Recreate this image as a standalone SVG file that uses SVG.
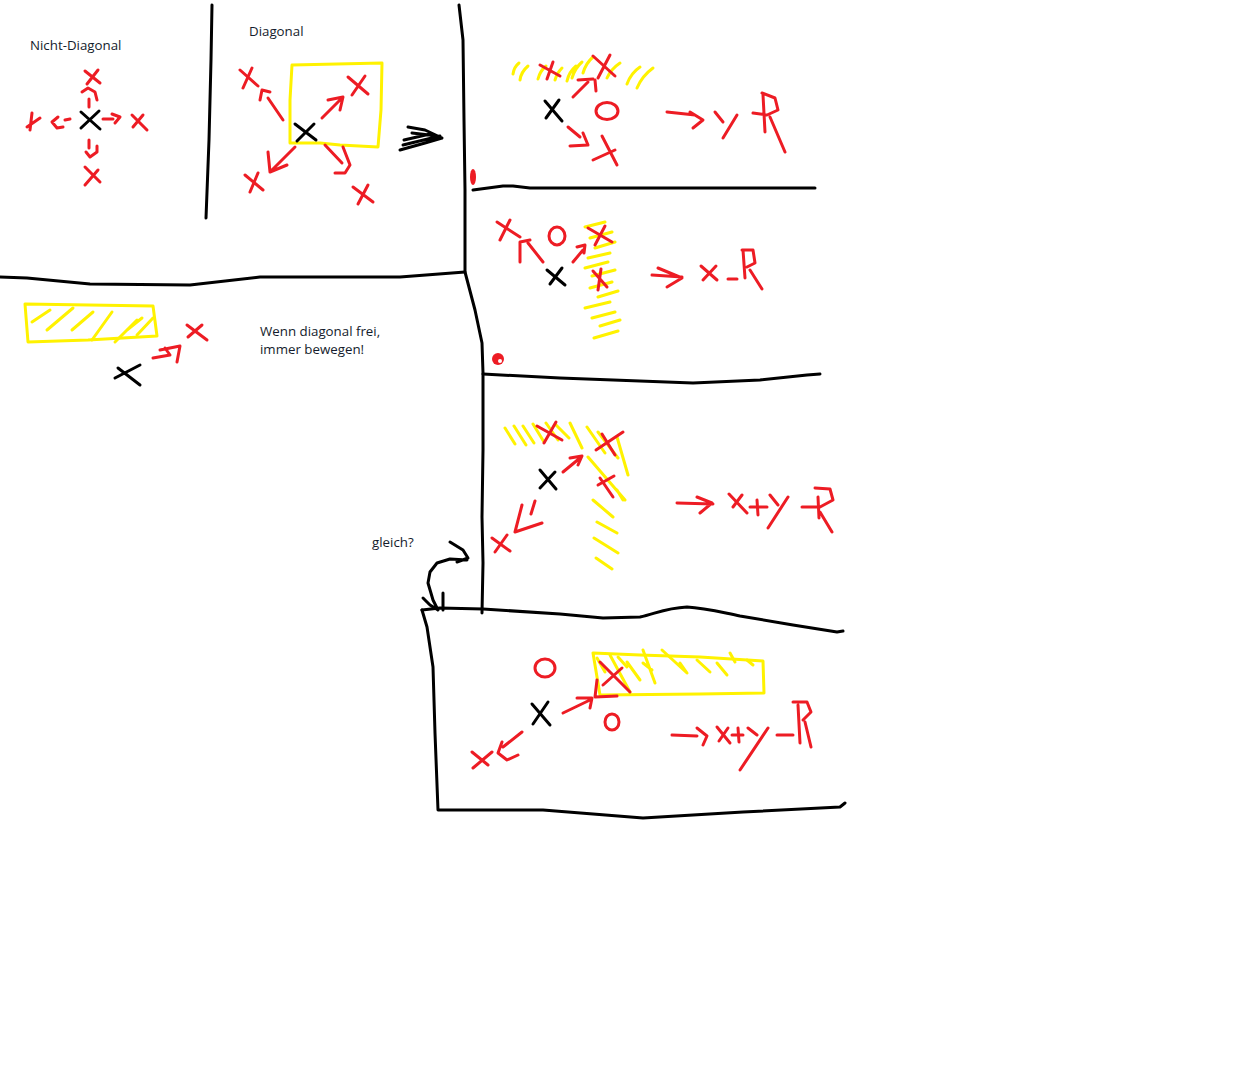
<svg xmlns="http://www.w3.org/2000/svg" width="1236" height="1078" viewBox="0 0 1236 1078">
<style>
.k{fill:none;stroke:#000;stroke-width:3;stroke-linecap:round;stroke-linejoin:round}
.r{fill:none;stroke:#ed1c24;stroke-width:3;stroke-linecap:round;stroke-linejoin:round}
.y{fill:none;stroke:#fff200;stroke-width:3;stroke-linecap:round;stroke-linejoin:round}
.t{font-family:"Open Sans","Noto Sans",sans-serif;font-size:13.3px;fill:#141c2c}
</style>
<rect width="1236" height="1078" fill="#fff"/>

<g id="connectors">
  <path class="k" d="M212,5 L211,60 L209,140 L206,218"/>
  <path class="k" d="M459,5 L463,40 L464,120 L465,190 L465,272 L475,310 L482,343 L483,373 L483,450 L482,517 L483,563 L482,613"/>
  <path class="k" d="M0,277 L27,278 L90,284 L190,285 L260,277 L400,277 L465,272"/>
  <path class="k" d="M473,190 L503,186 L513,186 L530,188 L815,188"/>
  <path class="k" d="M483,374 L560,378 L693,383 L760,380 L807,375 L820,374"/>
  <path class="k" d="M422,610 L440,608 L483,609 L560,614 L603,618 L640,617 C655,614 665,608 687,607 C705,608 720,612 740,616 L793,625 L837,632 L843,631"/>
  <path class="k" d="M422,610 L427,627 L433,667 L435,733 L438,810 L543,810 L643,818 L743,812 L840,807 L845,803"/>
  <path class="k" d="M400,150 L425,143 L442,138 M403,145 L440,136 M408,127 L425,130 L442,138 M412,133 L438,136 M404,140 L430,134"/>
  <path class="k" d="M450,542 L463,550 L468,558 L457,562 M467,560 L450,559 L437,563 L430,572 L428,583 L433,600 L438,610 M423,598 L430,605 L438,610 M443,593 L443,610"/>
</g>

<g id="nicht-diagonal">
  <text class="t" x="30" y="50">Nicht-Diagonal</text>
  <path class="k" d="M81,112 L100,129 M99,111 L81,128"/>
  <path class="r" d="M85,71 L100,83 M98,70 L87,84"/>
  <path class="r" d="M82,92 L88,88 L95,92 L97,100 M89,99 L89,107"/>
  <path class="r" d="M32,113 L30,130 M27,127 L40,118"/>
  <path class="r" d="M58,117 L52,122 L57,128 L63,127 M65,120 L70,119"/>
  <path class="r" d="M103,119 L113,119 M112,114 L120,117 L115,123"/>
  <path class="r" d="M132,115 L147,130 M133,127 L143,115"/>
  <path class="r" d="M89,140 L89,148 M86,152 L90,157 L97,152 L97,146"/>
  <path class="r" d="M85,167 L100,182 M85,185 L98,170"/>
</g>

<g id="diagonal">
  <text class="t" x="249" y="36">Diagonal</text>
  <path class="y" d="M292,65 L382,63 L381,110 L378,147 L340,145 L320,143 L290,143 L290,100 Z"/>
  <path class="k" d="M295,124 L316,140 M314,124 L297,141"/>
  <path class="r" d="M240,70 L258,86 M252,68 L243,88"/>
  <path class="r" d="M283,120 L268,98 M260,100 L262,90 L270,92"/>
  <path class="r" d="M322,118 L343,97 M328,100 L343,97 L340,110"/>
  <path class="r" d="M348,77 L368,94 M365,76 L352,95"/>
  <path class="r" d="M295,147 L272,170 M268,152 L270,172 L287,165"/>
  <path class="r" d="M245,175 L263,190 M258,173 L250,192"/>
  <path class="r" d="M325,145 L342,163 M343,147 L350,165 L345,173 L335,173"/>
  <path class="r" d="M353,187 L373,202 M368,185 L358,204"/>
</g>

<g id="panel-y">
  <path class="y" d="M513,74 Q514,67 519,63 M520,80 Q521,72 528,66 M538,79 Q540,71 546,66 M555,80 Q557,73 562,68 M567,81 Q569,72 576,66 M572,78 Q575,68 582,62 M583,73 Q586,63 593,57 M607,78 Q611,69 620,63 M627,84 Q631,73 640,67 M637,88 Q642,76 653,68"/>
  <path class="r" d="M540,65 L560,76 M553,62 L547,79"/>
  <path class="r" d="M593,56 L615,76 M610,55 L598,78"/>
  <path class="r" d="M573,97 L588,82 M578,80 L593,79 M595,80 L596,91"/>
  <path class="k" d="M545,101 L562,121 M559,100 L546,118"/>
  <ellipse class="r" cx="607" cy="111" rx="11" ry="8.5"/>
  <path class="r" d="M568,127 L580,137 M570,146 L588,145 L583,133"/>
  <path class="r" d="M602,136 L617,165 M593,160 L615,150"/>
  <path class="r" d="M667,112 L695,115 M690,112 L703,120 L693,128"/>
  <path class="r" d="M715,112 L723,122 M737,115 L723,138"/>
  <path class="r" d="M763,95 L765,132 M762,93 L775,98 L778,110 L767,115 L753,113 M770,117 L785,152"/>
  <ellipse cx="473" cy="177" rx="3" ry="8" fill="#ed1c24"/>
</g>

<g id="panel-x">
  <path class="y" d="M585,227 L605,222 M590,238 L612,232 M595,248 L615,242 M588,258 L610,253 M585,268 L608,262 M592,276 L615,270 M590,288 L612,282 M598,297 L618,291 M585,308 L610,302 M592,318 L615,312 M600,326 L620,320 M594,338 L618,331"/>
  <path class="r" d="M497,222 L520,237 M510,220 L500,240"/>
  <path class="r" d="M543,262 L528,243 M520,262 L520,242 L530,240"/>
  <ellipse class="r" cx="557" cy="236" rx="8" ry="9"/>
  <path class="k" d="M547,270 L565,285 M562,268 L550,284"/>
  <path class="r" d="M573,262 L583,250 M577,247 L585,245 L584,253"/>
  <path class="r" d="M588,228 L612,242 M605,226 L595,245"/>
  <path class="r" d="M593,271 L607,287 M601,269 L598,290"/>
  <path class="r" d="M652,275 L682,277 M658,268 L682,278 L667,287"/>
  <path class="r" d="M701,266 L717,280 M703,280 L716,266"/>
  <path class="r" d="M728,279 L737,279"/>
  <path class="r" d="M743,250 L745,278 M742,250 L753,250 L755,263 L747,267 M750,270 L762,289"/>
  <circle cx="498" cy="359" r="6" fill="#ed1c24"/>
  <circle cx="500" cy="361" r="2" fill="#fff"/>
</g>

<g id="panel-xy">
  <path class="y" d="M505,428 L515,444 M514,426 L526,445 M523,426 L534,443 M533,424 L544,442 M546,423 L558,440 M556,425 L569,438 M570,423 L582,448 M587,427 L605,453 M598,432 L618,458 M588,457 L625,500 M617,437 L628,475 M617,490 L623,500 M593,500 L613,517 M597,522 L617,533 M594,538 L618,553 M596,558 L612,569"/>
  <path class="r" d="M537,426 L562,440 M556,422 L544,443"/>
  <path class="r" d="M596,450 L623,432 M602,434 L615,455"/>
  <path class="r" d="M598,485 L614,476 M600,478 L613,497"/>
  <path class="k" d="M540,470 L556,489 M555,472 L540,488"/>
  <path class="r" d="M563,472 L580,458 M570,458 L582,456 L578,465"/>
  <path class="r" d="M535,501 L531,514 M522,505 L515,532 L542,523"/>
  <path class="r" d="M492,538 L510,551 M495,552 L507,535"/>
  <path class="r" d="M677,503 L713,504 M697,497 L712,503 L700,513"/>
  <path class="r" d="M729,494 L747,513 M733,507 L742,495"/>
  <path class="r" d="M750,507 L767,507 M757,500 L758,515"/>
  <path class="r" d="M770,495 L778,505 M788,497 L768,528"/>
  <path class="r" d="M802,507 L817,507"/>
  <path class="r" d="M818,497 L819,518 M815,488 L830,489 L833,500 L820,507 M820,512 L832,532"/>
</g>

<g id="panel-bottom">
  <text class="t" x="372" y="547">gleich?</text>
  <ellipse class="r" cx="545" cy="668" rx="10" ry="9"/>
  <path class="y" d="M593,653 L640,655 L700,657 L763,661 L764,693 L700,694 L600,695 Z"/>
  <path class="y" d="M597,658 L605,672 M610,655 L630,692 M618,657 L627,667 M627,662 L640,680 M643,650 L655,683 M643,663 L652,670 M662,650 L687,673 M680,663 L687,673 M697,660 L710,672 M717,663 L727,675 M730,653 L735,662 M747,660 L753,665"/>
  <path class="r" d="M600,662 L630,692 M603,685 L622,668"/>
  <path class="r" d="M597,680 L595,697 L617,696"/>
  <path class="k" d="M532,704 L550,725 M548,702 L533,724"/>
  <path class="r" d="M563,713 L590,700 M577,698 L592,698 L590,708"/>
  <ellipse class="r" cx="612" cy="722" rx="7" ry="8"/>
  <path class="r" d="M473,768 L492,752 M472,752 L488,765"/>
  <path class="r" d="M522,732 L503,747 M502,742 L498,753 L507,760 L518,755"/>
  <path class="r" d="M672,735 L697,736 M697,728 L707,736 L703,745"/>
  <path class="r" d="M717,727 L730,743 M728,728 L719,741"/>
  <path class="r" d="M732,735 L743,735 M738,728 L739,742"/>
  <path class="r" d="M748,728 L757,735 M768,728 L740,770"/>
  <path class="r" d="M777,735 L793,735"/>
  <path class="r" d="M798,705 L800,743 M793,702 L807,702 L811,712 L803,720 M805,722 L811,747"/>
</g>

<g id="panel-frei">
  <path class="y" d="M25,304 L153,306 L157,336 L88,340 L28,342 Z"/>
  <path class="y" d="M32,322 L50,310 M47,330 L73,308 M72,330 L93,312 M92,340 L112,312 M115,342 L137,320 M127,330 L142,318 M137,335 L153,318"/>
  <path class="k" d="M115,378 L140,365 M118,368 L140,385"/>
  <path class="r" d="M153,358 L170,355 L165,348 M160,350 L180,346 L177,362"/>
  <path class="r" d="M187,325 L207,340 M188,337 L202,325"/>
  <text class="t" x="260" y="336">Wenn diagonal frei,</text>
  <text class="t" x="260" y="354">immer bewegen!</text>
</g>
</svg>
